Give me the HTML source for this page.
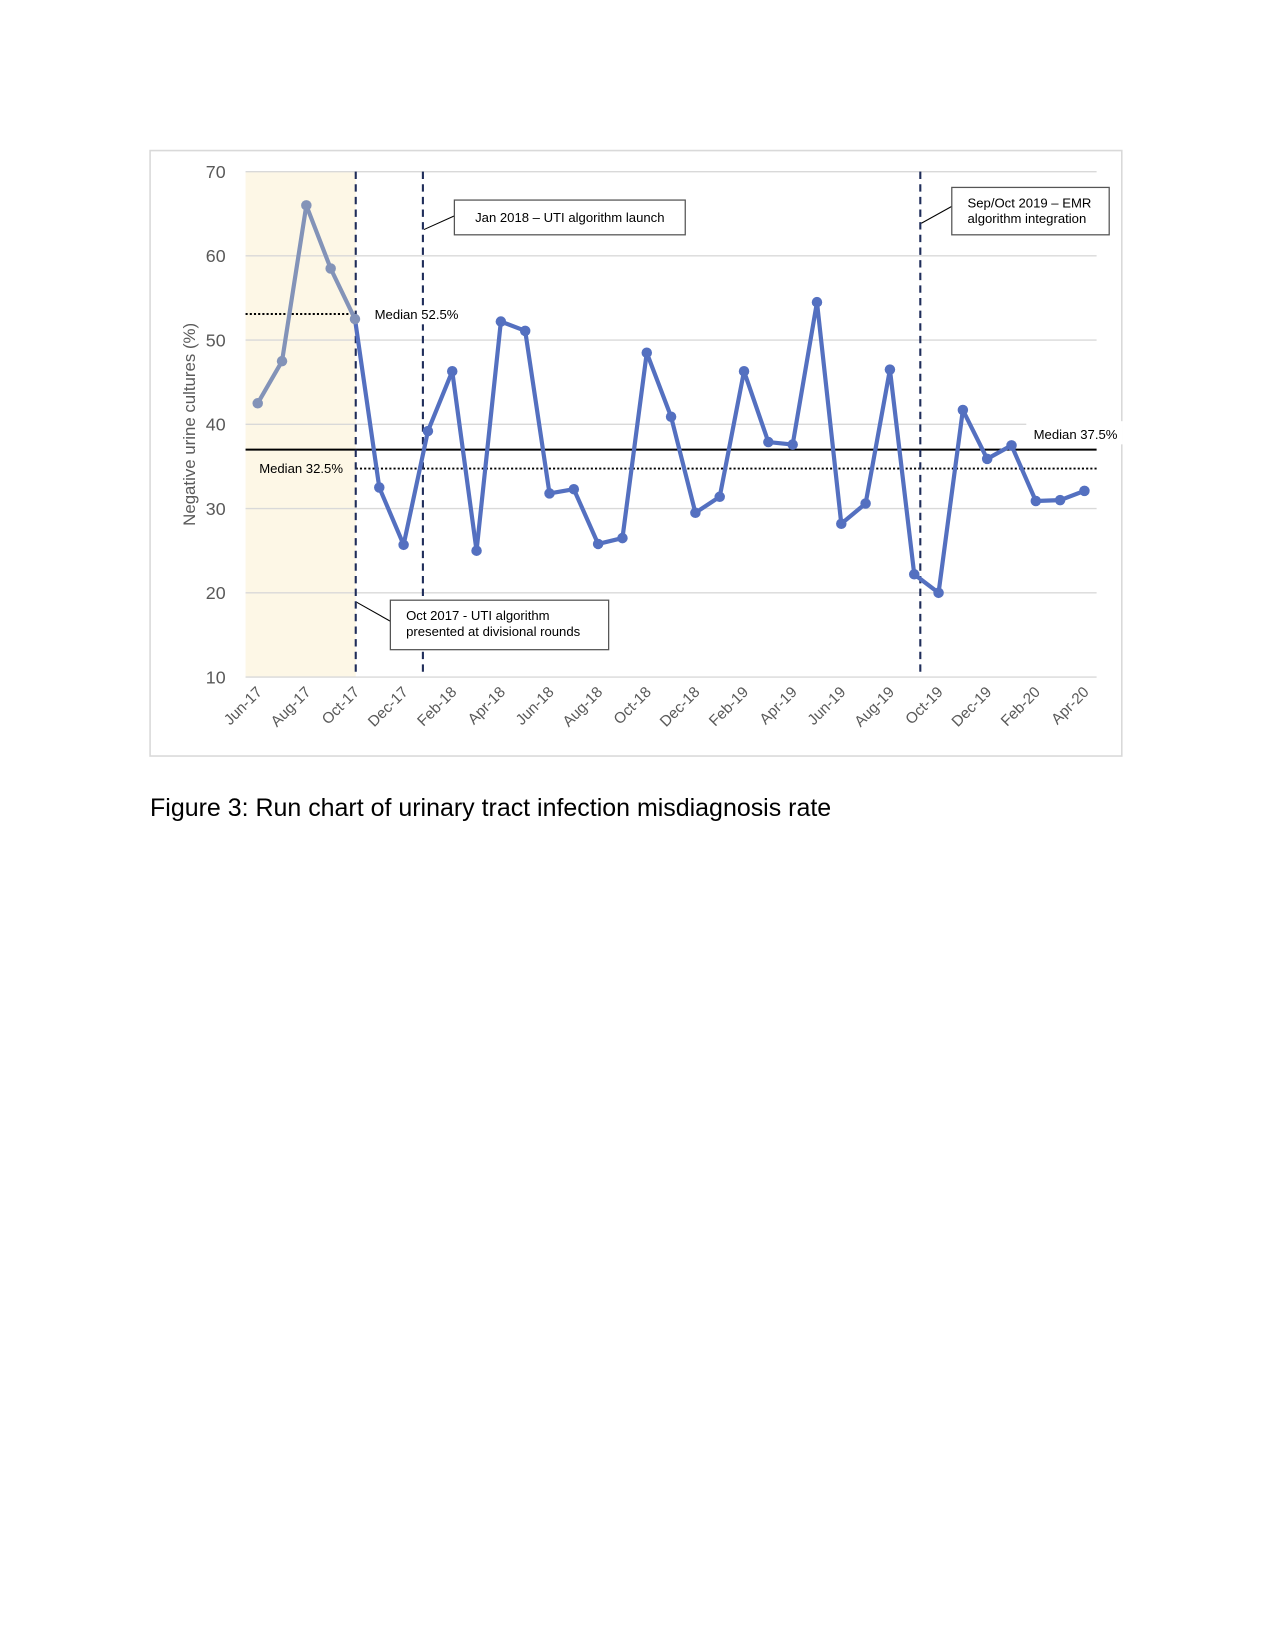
<!DOCTYPE html>
<html><head><meta charset="utf-8"><style>
html,body{margin:0;padding:0;background:#fff;}
svg{display:block;}
text{font-family:"Liberation Sans",Arial,sans-serif;}
</style></head><body>
<svg id="chart" width="1275" height="1650" viewBox="0 0 1215 1567" preserveAspectRatio="none" xmlns="http://www.w3.org/2000/svg">
<rect x="143" y="143" width="926" height="575" fill="#fff" stroke="#d9d9d9" stroke-width="1.5"/>
<rect x="234" y="163" width="105" height="480" fill="#fdf7e6"/>
<g id="grid"></g>
<g id="yticks"></g>
<g id="xticks"></g>
<text x="186" y="403" font-size="16" fill="#595959" text-anchor="middle" transform="rotate(-90 186 403)">Negative urine cultures (%)</text>
<g id="refs"></g>
<g id="series"></g>
<g id="annots"></g>
<text x="143" y="775" font-size="23.8" fill="#000">Figure 3: Run chart of urinary tract infection misdiagnosis rate</text>
</svg>
<script>
const categories=["Jun-17","Jul-17","Aug-17","Sep-17","Oct-17","Nov-17","Dec-17","Jan-18","Feb-18","Mar-18","Apr-18","May-18","Jun-18","Jul-18","Aug-18","Sep-18","Oct-18","Nov-18","Dec-18","Jan-19","Feb-19","Mar-19","Apr-19","May-19","Jun-19","Jul-19","Aug-19","Sep-19","Oct-19","Nov-19","Dec-19","Jan-20","Feb-20","Mar-20","Apr-20"];
const values=[42.5,47.5,66,58.5,52.5,32.5,25.7,39.2,46.3,25,52.2,51.1,31.8,32.3,25.8,26.5,48.5,40.9,29.5,31.4,46.3,37.9,37.6,54.5,28.2,30.6,46.5,22.2,20.0,41.7,35.9,37.5,30.9,31.0,32.1];
const baselineCount=5;
const yTicks=[10,20,30,40,50,60,70];
const overallMedian=37;
const baselineMedian=53.1;
const postMedian=34.75;
const NS="http://www.w3.org/2000/svg";
const X0=234,X1=1045,Y0=643,Y1=163,YMIN=10,YMAX=70;
const bw=(X1-X0)/categories.length;
const xs=i=>X0+bw*(i+0.5);
const ys=v=>Y0-(v-YMIN)/(YMAX-YMIN)*(Y0-Y1);
function mk(tag,attrs,parent,txt){const e=document.createElementNS(NS,tag);for(const k in attrs)e.setAttribute(k,attrs[k]);if(txt!==undefined)e.textContent=txt;parent.appendChild(e);return e;}
const grid=document.getElementById('grid'),yt=document.getElementById('yticks'),xt=document.getElementById('xticks');
yTicks.forEach(t=>{
  const xe=(t===40)?1000:X1;
  const l=mk('line',{x1:X0,x2:xe,y1:ys(t),y2:ys(t),stroke:'#d9d9d9','stroke-width':1.3},grid);
  
  
  const tx=mk('text',{x:215,y:ys(t)+6,'font-size':17,fill:'#595959','text-anchor':'end'},yt,String(t));
  
  
});
categories.forEach((c,i)=>{
  if(i%2!==0)return;
  const x=xs(i)+5,y=658;
  const tx=mk('text',{x:x,y:y,'font-size':14.5,fill:'#595959','text-anchor':'end',transform:`rotate(-45 ${x} ${y})`},xt,c);
  
  
});
const refs=document.getElementById('refs');
let r;
r=mk('line',{x1:X0,x2:X1,y1:ys(overallMedian),y2:ys(overallMedian),stroke:'#000','stroke-width':1.8},refs);

r=mk('line',{x1:X0,x2:339,y1:ys(baselineMedian),y2:ys(baselineMedian),stroke:'#000','stroke-width':1.8,'stroke-dasharray':'2 2'},refs);

r=mk('line',{x1:339,x2:X1,y1:ys(postMedian),y2:ys(postMedian),stroke:'#000','stroke-width':1.8,'stroke-dasharray':'2 2'},refs);

[[339,'oct-2017-marker'],[403,'jan-2018-marker'],[877,'oct-2019-marker']].forEach(v=>{
  const l=mk('line',{x1:v[0],x2:v[0],y1:Y1,y2:Y0,stroke:'#1f2d5a','stroke-width':2,'stroke-dasharray':'7 5'},refs);
  
  
});
const a0=document.getElementById('refs');
let bg=mk('rect',{x:352,y:290,width:90,height:18,fill:'#fff'},a0);


const s=document.getElementById('series');
for(let i=0;i<values.length-1;i++){
  const col=(i+1<baselineCount)?'#8393b8':'#5470c0';
  const l=mk('line',{x1:xs(i),y1:ys(values[i]),x2:xs(i+1),y2:ys(values[i+1]),stroke:col,'stroke-width':4,'stroke-linecap':'round'},s);
  
  
}
values.forEach((v,i)=>{
  const col=(i<baselineCount)?'#8393b8':'#5470c0';
  const c=mk('circle',{cx:xs(i),cy:ys(v),r:5,fill:col},s);
  
  
});
const a=document.getElementById('annots');
function box(x,y,w,h,lines,lx1,ly1,lx2,ly2,name){
  const ld=mk('line',{x1:lx1,y1:ly1,x2:lx2,y2:ly2,stroke:'#000','stroke-width':1},a);
  
  
  const b=mk('rect',{x:x,y:y,width:w,height:h,fill:'#fff',stroke:'#555','stroke-width':1.2},a);
  
  
  lines.forEach((t,k)=>{
    const tx=mk('text',{x:lines.length>1?x+15:x+w/2,y:y+(lines.length>1?19+k*15:21),'font-size':12.5,fill:'#000','text-anchor':lines.length>1?'start':'middle'},a,t);
    
    
  });
}
box(433,190,220,33,['Jan 2018 – UTI algorithm launch'],433,205,404,218,'jan-2018-annotation');
box(907,178,150,45,['Sep/Oct 2019 – EMR','algorithm integration'],907,196,878,212,'oct-2019-annotation');
box(372,570,208,47,['Oct 2017 - UTI algorithm','presented at divisional rounds'],372,590,340,572,'oct-2017-annotation');
let t;
t=mk('text',{x:357,y:303,'font-size':12.5,fill:'#000'},a,'Median 52.5%');

t=mk('text',{x:247,y:449,'font-size':12.5,fill:'#000'},a,'Median 32.5%');

t=mk('rect',{x:978,y:400,width:92,height:22,fill:'#fff'},a);

t=mk('text',{x:985,y:417,'font-size':12.5,fill:'#000'},a,'Median 37.5%');

</script>
</body></html>
